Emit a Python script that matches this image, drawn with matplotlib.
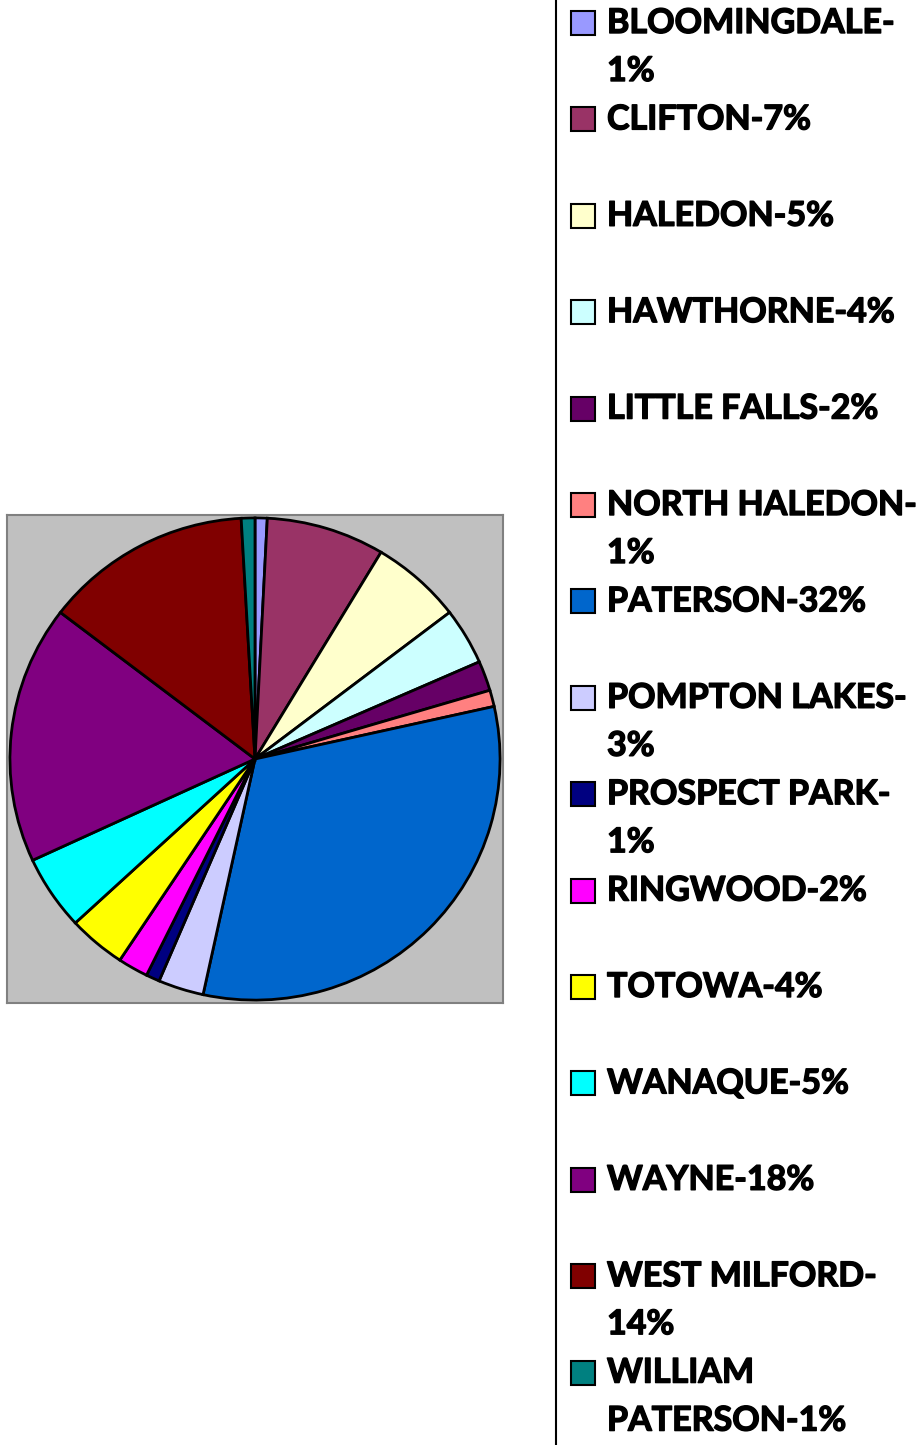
import matplotlib
matplotlib.use("Agg")
from matplotlib import pyplot as plt
from matplotlib import patheffects
from matplotlib.patches import Rectangle
from matplotlib.lines import Line2D

towns = ["BLOOMINGDALE-\n1%", "CLIFTON-7%", "HALEDON-5%", "HAWTHORNE-4%",
         "LITTLE FALLS-2%", "NORTH HALEDON-\n1%", "PATERSON-32%",
         "POMPTON LAKES-\n3%", "PROSPECT PARK-\n1%", "RINGWOOD-2%",
         "TOTOWA-4%", "WANAQUE-5%", "WAYNE-18%", "WEST MILFORD-\n14%",
         "WILLIAM\nPATERSON-1%"]
shares = [0.8, 7.8, 6.0, 3.8, 2.0, 1.1, 31.9, 3.0, 0.9, 2.0, 3.8, 5.0, 17.3, 13.7, 0.9]
colors = ["#9999FF", "#993366", "#FFFFCC", "#CCFFFF", "#660066", "#FF8080",
          "#0066CC", "#CCCCFF", "#000080", "#FF00FF", "#FFFF00", "#00FFFF",
          "#800080", "#800000", "#008080"]

W, H = 918, 1445
fig = plt.figure(figsize=(W / 100, H / 100), dpi=100)

# plot area (gray box) holding the pie
ax = fig.add_axes([7 / W, 1 - 1003 / H, 496 / W, 488 / H])
ax.pie(shares, colors=colors, startangle=90, counterclock=False, radius=1,
       frame=True, wedgeprops=dict(edgecolor="black", linewidth=2))
ax.set_facecolor("#C0C0C0")
for s in ax.spines.values():
    s.set_color("#808080")
    s.set_linewidth(1.5)
ax.set_aspect("auto")
ax.set_xlim(-1.012, 1.012)
ax.set_ylim(-1.012, 1.012)
ax.set_xticks([])
ax.set_yticks([])

# legend drawn by hand
fig.add_artist(Line2D([556 / W, 556 / W], [0, 1], color="black", lw=1.5,
                      transform=fig.transFigure))
heavy = [patheffects.withStroke(linewidth=1.0, foreground="black")]
step = 96.4
for i, (lab, c) in enumerate(zip(towns, colors)):
    y = 23 + i * step
    fig.add_artist(Rectangle((571 / W, 1 - (y + 12) / H), 24 / W, 24 / H,
                             facecolor=c, edgecolor="black", lw=1.5,
                             transform=fig.transFigure))
    for j, line in enumerate(lab.split("\n")):
        fig.text(607 / W, 1 - (y + j * 48) / H, line, va="center", ha="left",
                 fontsize=24.5, fontweight="bold", family="Lato",
                 path_effects=heavy)

fig.savefig("out.png", dpi=100)
